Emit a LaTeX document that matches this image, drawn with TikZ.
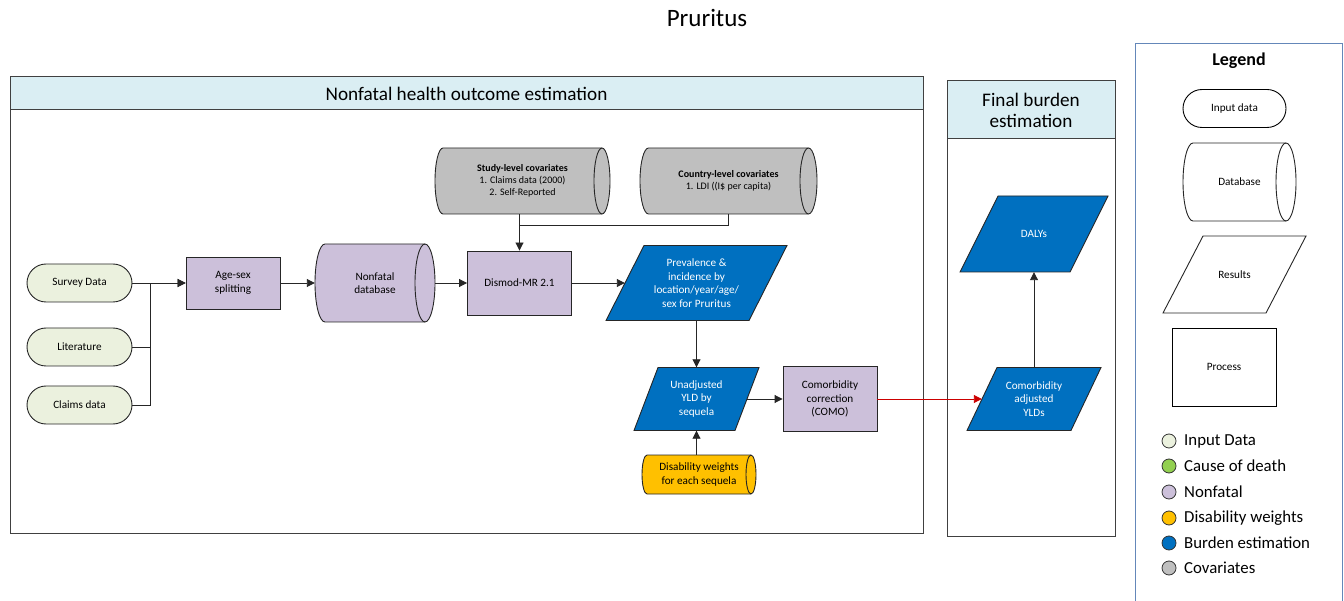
\documentclass[tikz,border=0pt]{standalone}
\usepackage{fontspec}
\setmainfont{Carlito}
\usetikzlibrary{arrows.meta,calc}
\definecolor{inputc}{RGB}{235,241,222}
\definecolor{nonfatc}{RGB}{204,192,218}
\definecolor{burdenc}{RGB}{0,112,192}
\definecolor{dwc}{RGB}{255,192,0}
\definecolor{covc}{RGB}{191,191,191}
\definecolor{codc}{RGB}{146,208,80}
\definecolor{headc}{RGB}{218,238,243}
\definecolor{legc}{RGB}{100,135,185}
\definecolor{redc}{RGB}{204,0,0}
\tikzset{
  txt/.style={inner sep=0pt, align=center, font=\fontsize{11.2}{13.5}\selectfont},
  covtxt/.style={font=\fontsize{10}{12}\selectfont},
  outl/.style={draw=black!85, line width=0.9pt},
  stadium/.style={txt, outl, rounded corners=19pt, minimum width=105pt, minimum height=38pt},
  procbox/.style={txt, outl, rectangle},
  conn/.style={draw=black!85, line width=0.9pt},
  arr/.style={conn, -{Triangle[length=8pt,width=8pt]}},
  legitem/.style={anchor=west, inner sep=0pt, font=\fontsize{16.8}{18}\selectfont},
  legdot/.style={circle, draw=black!80, line width=0.8pt, minimum size=14pt, inner sep=0pt},
  panel/.style={draw=black!75, line width=1pt},
}
% cylinder: [node options] name, cx, cy, half width, half height, rx, fill, text
\newcommand\cylnode[9][]{%
  \path[outl, fill=#8]
    ({#3-#5+#7},{#4-#6}) -- ({#3+#5-#7},{#4-#6})
    arc[start angle=90,end angle=-90,x radius=#7pt,y radius=#6pt]
    -- ({#3-#5+#7},{#4+#6})
    arc[start angle=270,end angle=90,x radius=#7pt,y radius=#6pt] -- cycle;
  \draw[outl] ({#3+#5-#7},{#4-#6}) arc[start angle=90,end angle=270,x radius=#7pt,y radius=#6pt];
  \node[txt, minimum width=2*#5pt, minimum height=2*#6pt, #1] (#2) at (#3,#4) {#9};
}
% parallelogram: name, cx, cy, half width, half height, offset, fill, text
\newcommand\parnode[8]{%
  \path[outl, fill=#7]
    ({#2-#4+#6},{#3-#5}) -- ({#2+#4},{#3-#5}) -- ({#2+#4-#6},{#3+#5}) -- ({#2-#4},{#3+#5}) -- cycle;
  \node[txt, minimum width=2*#4pt-#6pt, minimum height=2*#5pt] (#1) at (#2,#3) {#8};
}
\begin{document}
\begin{tikzpicture}[x=1pt,y=-1pt]
\useasboundingbox (0,0) rectangle (1344,601);

% title
\node[txt, font=\fontsize{25}{28}\selectfont] (title) at (707,18) {Pruritus};

% main panel
\path[panel, fill=headc] (10,77) rectangle (923,110);
\draw[panel] (10,77) rectangle (923,533);
\node[txt, font=\fontsize{19.2}{21}\selectfont] (mainhead) at (466.5,94) {Nonfatal health outcome estimation};

% final burden panel
\path[panel, fill=headc] (947,81) rectangle (1115,139);
\draw[panel] (947,81) rectangle (1115,536);
\node[txt, font=\fontsize{19.2}{21}\selectfont] (finhead) at (1031,110) {Final burden\\estimation};

% legend panel
\draw[draw=legc, line width=1pt] (1135,610) -- (1135,44) -- (1342,44) -- (1342,610);
\node[txt, font=\bfseries\fontsize{18}{20}\selectfont] (legtitle) at (1239,61) {Legend};
\node[stadium, minimum width=103pt, minimum height=38pt, draw=black] (lin) at (1234.5,108.5) {Input data};
\cylnode{ldb}{1239.5}{182}{56.5}{39}{10}{white}{Database}
\parnode{lres}{1234.5}{274.5}{71.5}{38.5}{40}{white}{Results}
\node[procbox, minimum width=104pt, minimum height=78pt, draw=black] (lproc) at (1224,367) {Process};

\foreach \i/\c/\t/\y in {1/inputc/Input Data/441, 2/codc/Cause of death/466, 3/nonfatc/Nonfatal/492, 4/dwc/Disability weights/518, 5/burdenc/Burden estimation/543, 6/covc/Covariates/568}{
  \node[legdot, fill=\c] (dot\i) at (1169,\y) {};
  \node[legitem] (lt\i) at (1184,\y) {\t};
}

% input data
\node[stadium, fill=inputc] (surv) at (79.5,283) {Survey Data};
\node[stadium, fill=inputc] (lit) at (79.5,347) {Literature};
\node[stadium, fill=inputc] (claims) at (79.5,405) {Claims data};
\coordinate (jn) at (150,283);

% processes
\node[procbox, fill=nonfatc, minimum width=94pt, minimum height=52pt] (age) at (233,283) {Age-sex\\splitting};
\cylnode{nfdb}{375}{283}{60}{39}{10}{nonfatc}{Nonfatal\\database}
\node[procbox, fill=nonfatc, minimum width=104pt, minimum height=64pt] (dis) at (519.5,283) {Dismod-MR 2.1};
\cylnode[covtxt]{study}{522.5}{181}{87.5}{33}{8}{covc}{\textbf{Study-level covariates}\\1. Claims data (2000)\\2. Self-Reported}
\cylnode[covtxt]{country}{728.5}{181}{88.5}{33}{8.5}{covc}{\textbf{Country-level covariates}\\1. LDI ((I\$ per capita)}
\parnode{prev}{696.5}{283}{90.5}{37.5}{38}{burdenc}{\color{white}Prevalence \&\\\color{white}incidence by\\\color{white}location/year/age/\\\color{white}sex for Pruritus}
\parnode{unadj}{696.5}{399}{62.5}{31.5}{24}{burdenc}{\color{white}Unadjusted\\\color{white}YLD by\\\color{white}sequela}
\node[procbox, fill=nonfatc, minimum width=94pt, minimum height=65pt] (como) at (830,399) {Comorbidity\\correction\\(COMO)};
\cylnode{dw}{699}{474.5}{57}{19.5}{5}{dwc}{Disability weights\\for each sequela}
\parnode{cadj}{1034}{399}{67}{31.5}{30}{burdenc}{\color{white}Comorbidity\\\color{white}adjusted\\\color{white}YLDs}
\parnode{dalys}{1034}{234}{74}{38}{38}{burdenc}{\color{white}DALYs}

% connectors
\draw[conn] (lit.east) -| (jn);
\draw[conn] (claims.east) -| (jn);
\draw[arr] (surv.east) -- (age.west);
\draw[arr] (age.west -| jn) -- (age.west);
\draw[arr] (age.east) -- (nfdb.west);
\draw[arr] (nfdb.east) -- (dis.west);
\draw[arr] (dis.east) -- (prev.west);
\coordinate (cj) at (dis.north |- 0,225);
\draw[arr] (study.south -| dis.north) -- (dis.north);
\draw[conn] (country.south) |- (cj);
\draw[arr] (prev.south) -- (unadj.north);
\draw[arr] (unadj.east) -- (como.west);
\draw[arr] (dw.north -| unadj.south) -- (unadj.south);
\draw[arr, draw=redc, -{Triangle[length=8pt,width=8pt,fill=redc]}] (como.east) -- (cadj.west);
\draw[arr] (cadj.north) -- (dalys.south);
\end{tikzpicture}
\end{document}
